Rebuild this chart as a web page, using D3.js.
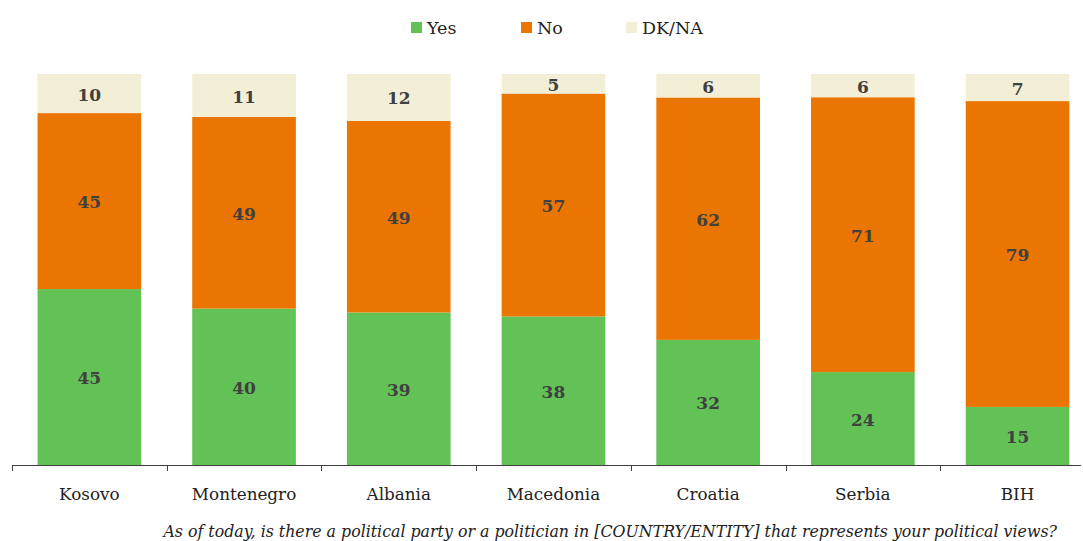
<!DOCTYPE html>
<html>
<head>
<meta charset="utf-8">
<script src="https://cdn.jsdelivr.net/npm/d3@7"></script>
<style>
  body { margin: 0; background: #fff; }
  svg { display: block; font-family: 'DejaVu Serif', serif; }
</style>
</head>
<body>
<div id="chart"></div>
<script>
const countries = ['Kosovo', 'Montenegro', 'Albania', 'Macedonia', 'Croatia', 'Serbia', 'BIH'];
const yesValues = [45, 40, 39, 38, 32, 24, 15];
const noValues = [45, 49, 49, 57, 62, 71, 79];
const dkValues = [10, 11, 12, 5, 6, 6, 7];
const seriesNames = ['Yes', 'No', 'DK/NA'];
const seriesColors = ['#63c255', '#ea7500', '#f2efd6'];
const question = 'As of today, is there a political party or a politician in [COUNTRY/ENTITY] that represents your political views?';

const width = 1083, height = 541;
const plotLeft = 12, plotBottom = 465, plotTop = 74;

const rows = countries.map((c, i) => ({ country: c, Yes: yesValues[i], No: noValues[i], 'DK/NA': dkValues[i] }));

const svg = d3.select('#chart').append('svg')
    .attr('width', width)
    .attr('height', height);

const x = d3.scaleBand()
    .domain(countries)
    .range([plotLeft, plotLeft + 154.7 * countries.length])
    .paddingInner(0.33)
    .paddingOuter(0.165);

const y = d3.scaleLinear().domain([0, 1]).range([plotBottom, plotTop]);

// stacked, normalised to 100%
const stacked = d3.stack().keys(seriesNames).offset(d3.stackOffsetExpand)(rows);

const layers = svg.selectAll('.layer')
    .data(stacked)
    .enter().append('g')
    .attr('fill', (d, i) => seriesColors[i]);

layers.selectAll('rect')
    .data(d => d)
    .enter().append('rect')
    .attr('x', d => x(d.data.country))
    .attr('width', x.bandwidth())
    .attr('y', d => y(d[1]))
    .attr('height', d => y(d[0]) - y(d[1]));

// value labels
stacked.forEach(layer => {
    svg.selectAll(null)
        .data(layer)
        .enter().append('text')
        .attr('x', d => x(d.data.country) + x.bandwidth() / 2)
        .attr('y', d => (y(d[0]) + y(d[1])) / 2 + 1)
        .attr('text-anchor', 'middle')
        .attr('dominant-baseline', 'central')
        .style('font-size', '17px')
        .style('font-weight', '700')
        .style('fill', '#404040')
        .text(d => d.data[layer.key]);
});

// axis
const axis = svg.append('g');
axis.append('line')
    .attr('x1', plotLeft).attr('x2', 1081)
    .attr('y1', plotBottom + 0.5).attr('y2', plotBottom + 0.5)
    .attr('stroke', '#404040');
const step = x.step();
d3.range(countries.length + 1).forEach(i => {
    const tx = Math.round(plotLeft + i * step) + 0.5;
    axis.append('line')
        .attr('x1', tx).attr('x2', tx)
        .attr('y1', plotBottom).attr('y2', plotBottom + 6)
        .attr('stroke', '#404040');
});
axis.selectAll('.cat')
    .data(countries)
    .enter().append('text')
    .attr('x', d => x(d) + x.bandwidth() / 2)
    .attr('y', 500)
    .attr('text-anchor', 'middle')
    .style('font-size', '16.8px')
    .style('fill', '#222')
    .text(d => d);

// legend
const legendX = [411, 521, 626];
seriesNames.forEach((s, i) => {
    svg.append('rect')
        .attr('x', legendX[i]).attr('y', 22)
        .attr('width', 11).attr('height', 11)
        .attr('fill', seriesColors[i]);
    svg.append('text')
        .attr('x', legendX[i] + 16).attr('y', 34)
        .style('font-size', '17.5px')
        .style('fill', '#222')
        .text(s);
});

// question footnote
svg.append('text')
    .attr('x', 1057).attr('y', 537)
    .attr('text-anchor', 'end')
    .style('font-size', '15.8px')
    .style('font-style', 'italic')
    .style('fill', '#222')
    .text(question);
</script>
</body>
</html>
